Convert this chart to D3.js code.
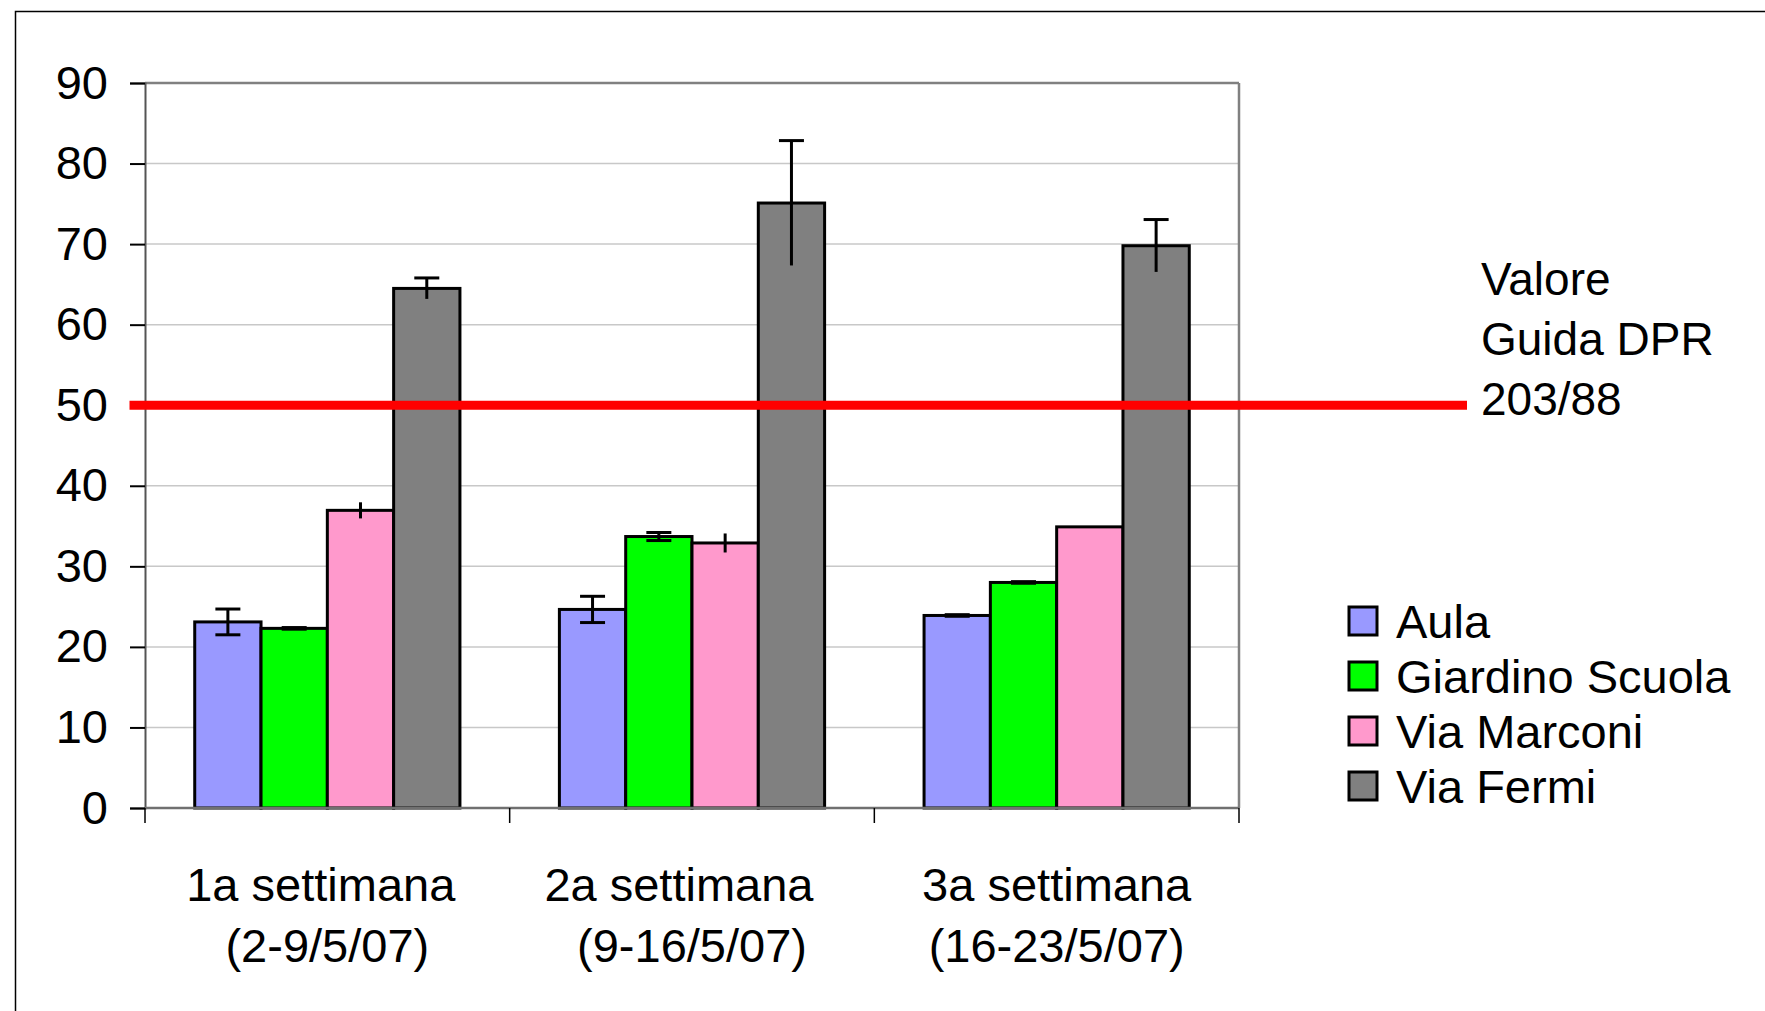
<!DOCTYPE html>
<html><head><meta charset="utf-8">
<script src="https://cdn.jsdelivr.net/npm/d3@7"></script>
<style>
html,body{margin:0;padding:0;background:#fff;}
svg{display:block;font-family:"Liberation Sans",Arial,sans-serif;}
text{white-space:pre;}
</style></head>
<body>
<script>
const categories = ["1a settimana ", "2a settimana  ", "3a settimana"];
const subLabels = ["(2-9/5/07)", "(9-16/5/07)", "(16-23/5/07)"];
const series = ["Aula", "Giardino Scuola", "Via Marconi", "Via Fermi"];
const colors = ["#9999FF", "#00FF00", "#FF99CC", "#808080"];
const aula = [23.1, 24.65, 23.9];
const aulaErr = [1.6, 1.63, 0.1];
const giardino = [22.3, 33.7, 28.0];
const giardinoErr = [0.1, 0.5, 0.1];
const marconi = [36.95, 32.9, 34.9];
const marconiErr = [1.0, 1.18, 0.1];
const fermi = [64.5, 75.1, 69.8];
const fermiErr = [1.3, 7.75, 3.25];
const yTicks = [0, 10, 20, 30, 40, 50, 60, 70, 80, 90];
const guideValue = 50;
const guideLabel = ["Valore", "Guida DPR", "203/88"];

const values = [aula, giardino, marconi, fermi];
const errors = [aulaErr, giardinoErr, marconiErr, fermiErr];
// cap style per series: [top cap, bottom cap]
const caps = [[true, true], [true, true], [false, false], [true, false]];

const W = 1765, H = 1011;
const svg = d3.select("body").append("svg").attr("width", W).attr("height", H);

// outer frame
svg.append("rect").attr("x", 15.5).attr("y", 11.5).attr("width", W + 20).attr("height", H + 20)
  .attr("fill", "none").attr("stroke", "#000").attr("stroke-width", 1.5);

const L = 145, R = 1239, T = 83, B = 808;
const x = d3.scaleBand().domain(categories).range([L, R]).paddingInner(0).paddingOuter(0);
const xs = d3.scaleBand().domain(series).range([0, x.bandwidth()]).paddingInner(0).paddingOuter(0.75);
const y = d3.scaleLinear().domain([0, 90]).range([B, T]);

// gridlines
svg.append("g").selectAll("line").data(yTicks.filter(d => d > 0 && d < 90)).join("line")
  .attr("x1", L).attr("x2", R).attr("y1", d => y(d)).attr("y2", d => y(d))
  .attr("stroke", "#C8C8C8").attr("stroke-width", 1.5);

// plot border top/right
svg.append("line").attr("x1", L).attr("x2", R).attr("y1", T).attr("y2", T).attr("stroke", "#808080").attr("stroke-width", 2.5);
svg.append("line").attr("x1", R).attr("x2", R).attr("y1", T).attr("y2", B).attr("stroke", "#808080").attr("stroke-width", 2.5);

// bars
const rows = [];
categories.forEach((c, i) => series.forEach((s, j) => rows.push({c, s, j, v: values[j][i], e: errors[j][i]})));
const gBars = svg.append("g");
gBars.selectAll("rect").data(rows).join("rect")
  .attr("x", d => x(d.c) + xs(d.s))
  .attr("y", d => y(d.v))
  .attr("width", xs.bandwidth())
  .attr("height", d => y(0) - y(d.v))
  .attr("fill", d => colors[d.j])
  .attr("stroke", "#000").attr("stroke-width", 3);

// axes
const yAxis = d3.axisLeft(y).tickValues(yTicks).tickSize(15).tickPadding(22);
const gy = svg.append("g").attr("transform", `translate(${L},0)`).call(yAxis);
gy.select(".domain").attr("stroke", "#555").attr("stroke-width", 2);
gy.selectAll(".tick line").attr("stroke", "#000").attr("stroke-width", 2);
gy.selectAll(".tick text").attr("font-size", 47).attr("fill", "#000").attr("font-family", "Liberation Sans, Arial, sans-serif");

svg.append("line").attr("x1", L).attr("x2", R).attr("y1", B).attr("y2", B).attr("stroke", "#707070").attr("stroke-width", 2.5);
const bounds = categories.map(c => x(c)).concat([R]);
svg.append("g").selectAll("line").data(bounds).join("line")
  .attr("x1", d => d).attr("x2", d => d).attr("y1", B).attr("y2", B + 15)
  .attr("stroke", "#000").attr("stroke-width", 1.5);

// category labels
const gl = svg.append("g");
categories.forEach((c, i) => {
  const t = gl.append("text").attr("text-anchor", "middle").attr("font-size", 47).attr("fill", "#000");
  t.append("tspan").attr("x", x(c) + x.bandwidth() / 2).attr("y", 901).text(c);
  t.append("tspan").attr("x", x(c) + x.bandwidth() / 2).attr("y", 962).text(subLabels[i]);
});

// error bars
const gErr = svg.append("g").attr("stroke", "#000").attr("stroke-width", 3);
rows.forEach(d => {
  const cx = x(d.c) + xs(d.s) + xs.bandwidth() / 2;
  gErr.append("line").attr("x1", cx).attr("x2", cx).attr("y1", y(d.v + d.e)).attr("y2", y(d.v - d.e));
  if (caps[d.j][0]) gErr.append("line").attr("x1", cx - 12.5).attr("x2", cx + 12.5).attr("y1", y(d.v + d.e)).attr("y2", y(d.v + d.e));
  if (caps[d.j][1]) gErr.append("line").attr("x1", cx - 12.5).attr("x2", cx + 12.5).attr("y1", y(d.v - d.e)).attr("y2", y(d.v - d.e));
});

// guide line
svg.append("line").attr("x1", 129.5).attr("x2", 1467).attr("y1", y(guideValue)).attr("y2", y(guideValue))
  .attr("stroke", "#FF0000").attr("stroke-width", 9);
const ga = svg.append("text").attr("font-size", 46).attr("fill", "#000");
guideLabel.forEach((s, i) => ga.append("tspan").attr("x", 1481).attr("y", 295 + i * 60).text(s));

// legend
const lg = svg.append("g");
series.forEach((s, i) => {
  const yy = 638 + i * 55;
  lg.append("rect").attr("x", 1349).attr("y", yy - 31).attr("width", 28).attr("height", 28)
    .attr("fill", colors[i]).attr("stroke", "#000").attr("stroke-width", 3);
  lg.append("text").attr("x", 1396).attr("y", yy).attr("font-size", 47).attr("fill", "#000").text(s);
});
</script>
</body></html>
